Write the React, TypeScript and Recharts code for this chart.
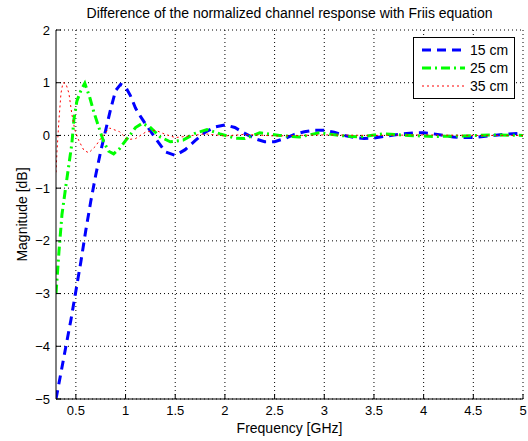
import React from "react";
import {
  LineChart,
  Line,
  XAxis,
  YAxis,
  CartesianGrid,
  Legend,
} from "recharts";

// frequency [GHz] / magnitude [dB]
const freq15 = [
  0.3, 0.35, 0.4, 0.45, 0.5, 0.55, 0.6, 0.65, 0.7, 0.75, 0.8, 0.85, 0.9, 0.95,
  1.0, 1.05, 1.1, 1.15, 1.2, 1.3, 1.4, 1.5, 1.6, 1.7, 1.8, 1.9, 2.0, 2.1, 2.2,
  2.3, 2.4, 2.5, 2.6, 2.7, 2.8, 2.9, 3.0, 3.1, 3.2, 3.3, 3.4, 3.5, 3.6, 3.7,
  3.8, 3.9, 4.0, 4.1, 4.2, 4.3, 4.4, 4.5, 4.6, 4.7, 4.8, 4.9, 5.0,
];
const mag15 = [
  -5.0, -4.5, -4.0, -3.5, -2.95, -2.4, -1.8, -1.25, -0.75, -0.3, 0.1, 0.5,
  0.85, 0.97, 0.92, 0.75, 0.52, 0.36, 0.22, -0.05, -0.31, -0.38, -0.27, -0.1,
  0.06, 0.16, 0.2, 0.15, 0.04, -0.06, -0.12, -0.12, -0.06, 0.02, 0.07, 0.1,
  0.1, 0.06, 0.0, -0.04, -0.06, -0.05, -0.02, 0.01, 0.03, 0.05, 0.05, 0.03,
  0.0, -0.03, -0.04, -0.04, -0.02, 0.0, 0.02, 0.03, 0.04,
];

const freq25 = [
  0.3, 0.33, 0.36, 0.4, 0.43, 0.46, 0.48, 0.51, 0.55, 0.59, 0.64, 0.68, 0.73,
  0.78, 0.83, 0.88, 0.94, 1.0, 1.05, 1.1, 1.17, 1.25, 1.35, 1.45, 1.58, 1.7,
  1.82, 1.95, 2.1, 2.2, 2.35, 2.55, 2.75, 2.95, 3.15, 3.35, 3.6, 3.85, 4.1,
  4.4, 4.7, 5.0,
];
const mag25 = [
  -3.0, -2.2, -1.5, -0.95, -0.55, -0.15, 0.3, 0.65, 0.85, 0.99, 0.72, 0.45,
  0.16, -0.12, -0.3, -0.35, -0.25, -0.1, 0.02, 0.15, 0.23, 0.15, -0.03, -0.12,
  -0.09, 0.04, 0.11, 0.03, -0.05, -0.06, 0.05, 0.0, -0.03, 0.05, 0.0, -0.03,
  0.03, 0.0, -0.02, -0.01, 0.01, 0.0,
];

const freq35 = [
  0.3, 0.31, 0.33, 0.35, 0.37, 0.4, 0.43, 0.46, 0.49, 0.53, 0.58, 0.63, 0.7,
  0.76, 0.84, 0.94, 1.02, 1.1, 1.2, 1.3, 1.4, 1.5, 1.6, 1.8, 2.0, 2.2, 2.5,
  3.0, 3.5, 4.0, 4.5, 5.0,
];
const mag35 = [
  -0.7, -0.3, 0.3, 0.8, 1.0, 0.98, 0.8, 0.4, 0.1, -0.1, -0.28, -0.33, -0.2,
  -0.03, 0.14, 0.07, -0.08, -0.06, 0.06, 0.1, 0.02, -0.04, -0.02, 0.03, -0.01,
  0.02, -0.01, 0.01, 0.0, 0.01, 0.0, 0.0,
];

const xTicks = [0.5, 1, 1.5, 2, 2.5, 3, 3.5, 4, 4.5, 5];
const yTicks = [-5, -4, -3, -2, -1, 0, 1, 2];

const FONT = '"Liberation Sans", Arial, Helvetica, sans-serif';

const toRows = (f: number[], m: number[]) =>
  f.map((x, i) => ({ f: x, v: m[i] }));

const series = [
  { name: "15 cm", data: toRows(freq15, mag15), color: "#0000ff", width: 3, dash: "9 6" },
  { name: "25 cm", data: toRows(freq25, mag25), color: "#00ff00", width: 3, dash: "9 4 2 4" },
  { name: "35 cm", data: toRows(freq35, mag35), color: "#ff0000", width: 1, dash: "2 3" },
];

const fmtY = (v: number) => (v < 0 ? `\u2212${-v}` : `${v}`);

// eslint-disable-next-line @typescript-eslint/no-explicit-any
function LegendBox(props: any) {
  const payload = props.payload || [];
  return (
    <div
      style={{
        border: "1px solid #000",
        background: "#fff",
        padding: "3px 8px 3px 7px",
        fontFamily: FONT,
        fontSize: 14,
        lineHeight: "17px",
        whiteSpace: "nowrap",
        width: 85,
      }}
    >
      {payload.map((p: any) => {
        const s = series.find((x) => x.name === p.value)!;
        return (
          <div key={p.value} style={{ display: "flex", alignItems: "center" }}>
            <svg width={49} height={18} style={{ flexShrink: 0 }}>
              <line
                x1={1}
                x2={44}
                y1={9}
                y2={9}
                stroke={s.color}
                strokeWidth={s.width}
                strokeDasharray={s.dash}
              />
            </svg>
            <span>{p.value}</span>
          </div>
        );
      })}
    </div>
  );
}

export default function App() {
  return (
    <div
      style={{
        position: "absolute",
        left: 0,
        top: 0,
        width: 528,
        height: 441,
        background: "#fff",
        fontFamily: FONT,
      }}
    >
      <div
        style={{
          position: "absolute",
          left: 56,
          width: 467,
          top: 5,
          textAlign: "center",
          fontSize: 14,
          whiteSpace: "nowrap",
          zIndex: 2,
        }}
      >
        Difference of the normalized channel response with Friis equation
      </div>
      <LineChart
        width={528}
        height={441}
        margin={{ top: 30, right: 5, bottom: 0, left: 0 }}
      >
        <CartesianGrid
          stroke="#000"
          strokeDasharray="1 3"
          horizontalValues={yTicks}
          verticalValues={xTicks}
        />
        <XAxis
          dataKey="f"
          type="number"
          domain={[0.3, 5]}
          ticks={xTicks}
          interval={0}
          allowDataOverflow
          height={42}
          stroke="#000"
          tickSize={-5}
          tickMargin={12}
          tick={{ fill: "#000", fontSize: 13, fontFamily: FONT }}
          label={{
            content: (p: any) => (
              <text
                x={p.viewBox.x + p.viewBox.width / 2}
                y={p.viewBox.y + 34}
                textAnchor="middle"
                fontSize={14}
                fontFamily={FONT}
                fill="#000"
              >
                Frequency [GHz]
              </text>
            ),
          }}
        />
        <XAxis
          xAxisId="top"
          orientation="top"
          dataKey="f"
          type="number"
          domain={[0.3, 5]}
          ticks={xTicks}
          interval={0}
          allowDataOverflow
          height={0}
          stroke="#000"
          tickSize={-5}
          tick={false}
        />
        <YAxis
          type="number"
          domain={[-5, 2]}
          ticks={yTicks}
          interval={0}
          allowDataOverflow
          width={56}
          stroke="#000"
          tickSize={-5}
          tickMargin={11}
          tickFormatter={fmtY}
          tick={{ fill: "#000", fontSize: 13, fontFamily: FONT }}
          label={{
            content: (p: any) => {
              const cx = p.viewBox.x + 22;
              const cy = p.viewBox.y + p.viewBox.height / 2;
              return (
                <text
                  x={cx}
                  y={cy}
                  transform={`rotate(-90 ${cx} ${cy})`}
                  textAnchor="middle"
                  dominantBaseline="central"
                  fontSize={14}
                  fontFamily={FONT}
                  fill="#000"
                >
                  Magnitude [dB]
                </text>
              );
            },
          }}
        />
        <YAxis
          yAxisId="r"
          orientation="right"
          type="number"
          domain={[-5, 2]}
          ticks={yTicks}
          interval={0}
          allowDataOverflow
          width={0}
          stroke="#000"
          tickSize={-5}
          tick={false}
        />
        {series.map((s) => (
          <Line
            key={s.name}
            data={s.data}
            dataKey="v"
            name={s.name}
            type="linear"
            stroke={s.color}
            strokeWidth={s.width}
            strokeDasharray={s.dash}
            dot={false}
            activeDot={false}
            isAnimationActive={false}
          />
        ))}
        <Legend
          content={<LegendBox />}
          layout="vertical"
          align="center"
          verticalAlign="middle"
          wrapperStyle={{ position: "absolute", left: 413, top: 37, width: "auto", right: "auto", bottom: "auto" }}
        />
      </LineChart>
    </div>
  );
}
